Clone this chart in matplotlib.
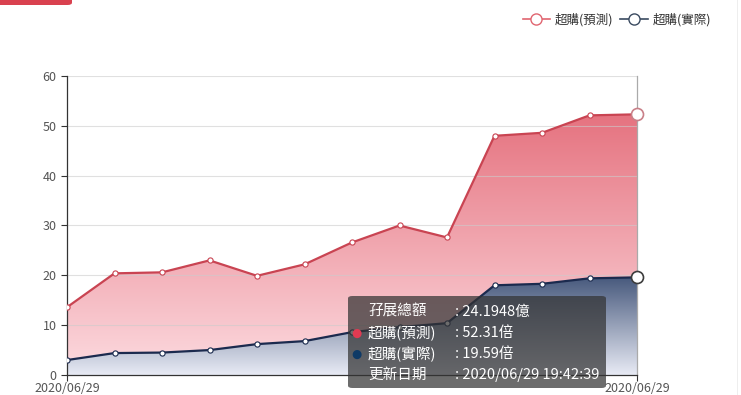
import numpy as np
import matplotlib.pyplot as plt
from matplotlib.patches import FancyBboxPatch, Rectangle
from matplotlib.lines import Line2D

plt.rcParams['font.family'] = ['Noto Sans CJK TC', 'DejaVu Sans']

# data
dates = ['2020/06/29'] * 13
pred = [13.6, 20.4, 20.6, 23.0, 19.9, 22.2, 26.6, 30.0, 27.6, 48.0, 48.6, 52.1, 52.31]
actual = [3.0, 4.4, 4.5, 5.0, 6.2, 6.8, 8.6, 9.6, 10.4, 18.0, 18.3, 19.4, 19.59]
names = ['超購(預測)', '超購(實際)']
tip_rows = [('孖展總額', '24.1948億'), ('超購(預測)', '52.31倍'),
            ('超購(實際)', '19.59倍'), ('更新日期', '2020/06/29 19:42:39')]

red_line = '#c94452'
blue_line = '#1b2a4e'

W, H = 741, 395
fig = plt.figure(figsize=(W / 100, H / 100), dpi=100)
ax = fig.add_axes([67 / W, 1 - 375 / H, 570 / W, 299 / H])
x = np.arange(len(pred))


def grad_fill(ax, x, y, top_col, bot_col, z):
    poly = ax.fill_between(x, 0, y, color='none', zorder=z)
    t = np.linspace(0, 1, 256)[:, None]
    top = np.array(top_col)
    bot = np.array(bot_col)
    img = (bot + (top - bot) * t)[:, None, :]
    im = ax.imshow(img, extent=[x[0], x[-1], 0, max(y)], origin='lower',
                   aspect='auto', zorder=z, interpolation='bilinear')
    im.set_clip_path(poly.get_paths()[0], transform=ax.transData)


grad_fill(ax, x, pred, (0.90, 0.45, 0.50, 1.0), (0.99, 0.86, 0.88, 1.0), 1)
grad_fill(ax, x, actual, (0.28, 0.35, 0.49, 1.0), (0.91, 0.92, 0.96, 1.0), 2)

ax.plot(x, pred, color=red_line, lw=1.6, zorder=3)
ax.plot(x, actual, color=blue_line, lw=1.6, zorder=4)
ax.scatter(x[:-1], pred[:-1], s=14, facecolor='white', edgecolor=red_line, lw=0.8, zorder=5)
ax.scatter(x[:-1], actual[:-1], s=14, facecolor='white', edgecolor=blue_line, lw=0.8, zorder=5)
# hovered point
ax.scatter(x[-1:], pred[-1:], s=75, facecolor='white', edgecolor='#c98088', lw=1.2,
           zorder=6, clip_on=False)
ax.scatter(x[-1:], actual[-1:], s=75, facecolor='white', edgecolor='#3c3c3c', lw=1.2,
           zorder=6, clip_on=False)
ax.axvline(x[-1], color='#aaaaaa', lw=0.9, zorder=2.5, clip_on=False)

ax.set_xlim(x[0], x[-1])
ax.set_ylim(0, 60)
ax.set_yticks(range(0, 61, 10))
ax.grid(axis='y', color='#cccccc', lw=0.8)
for gl in ax.get_ygridlines():
    gl.set_zorder(2.6)
    gl.set_alpha(0.6)
ax.set_xticks([x[0], x[-1]])
ax.set_xticklabels([dates[0], dates[-1]])
ax.tick_params(axis='both', labelsize=9, colors='#333333', labelcolor='#555555',
               length=4, width=0.8)
ax.tick_params(axis='x', pad=1)
for s in ['top', 'right']:
    ax.spines[s].set_visible(False)
for s in ['left', 'bottom']:
    ax.spines[s].set_color('#333333')
    ax.spines[s].set_linewidth(0.9)

# legend
handles = [Line2D([0], [0], color=c, lw=1.2, marker='o', ms=8, mfc='white', mec=c)
           for c in ['#e06570', '#3a4a60']]
fig.legend(handles, names, loc='upper right', bbox_to_anchor=(722 / W, 1 - 2 / H),
           ncol=2, frameon=False, fontsize=9, handlelength=2.2, handletextpad=0.35,
           columnspacing=0.6, labelcolor='#333333')

# tooltip
tip = FancyBboxPatch((348 / W, 1 - 388 / H), 258 / W, 92 / H,
                     boxstyle='round,pad=0,rounding_size=0.006',
                     transform=fig.transFigure, facecolor=(0.2, 0.2, 0.2, 0.72),
                     edgecolor='none', zorder=10)
fig.patches.append(tip)
row_y = [312, 333, 354, 375]
dot_cols = [None, '#e03a52', '#0f3a66', None]
for (lab, val), yy, dc in zip(tip_rows, row_y, dot_cols):
    fy = 1 - yy / H
    if dc:
        fig.text(356 / W, fy, '●', color=dc, fontsize=8.5, ha='center', va='center',
                 zorder=11, family=['DejaVu Sans'])
    fig.text(368 / W, fy, lab, color='white', fontsize=10.5, va='center', zorder=11)
    fig.text(455 / W, fy, ': ' + val, color='white', fontsize=10.5, va='center', zorder=11)

# red tab at top left
fig.patches.append(FancyBboxPatch((-10 / W, 1 - 5 / H), 82 / W, 12 / H,
                                  boxstyle='round,pad=0,rounding_size=0.006',
                                  transform=fig.transFigure, facecolor='#d9414f',
                                  edgecolor='none'))
# faint border on the right
fig.patches.append(Rectangle((737 / W, 0), 1 / W, 1, transform=fig.transFigure,
                             facecolor='#eeeeee', edgecolor='none'))

fig.savefig('out.png', dpi=100)
